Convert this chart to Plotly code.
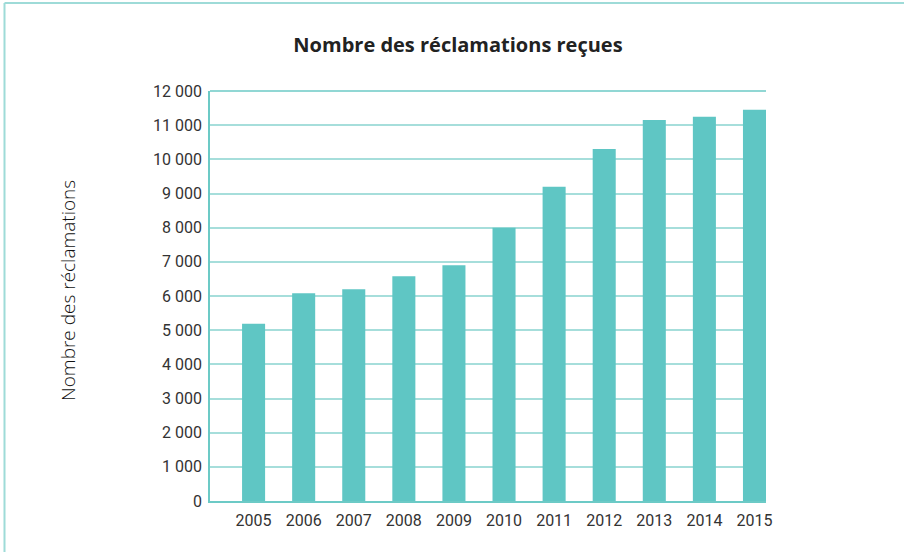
import plotly.graph_objects as go

years = [2005, 2006, 2007, 2008, 2009, 2010, 2011, 2012, 2013, 2014, 2015]
reclamations = [5190, 6080, 6200, 6580, 6900, 8000, 9200, 10300, 11150, 11250, 11450]
y_ticks = list(range(0, 12001, 1000))

title_text = "Nombre des réclamations reçues"
y_title = "Nombre des réclamations"

W, H = 904, 552
L, R, T, B = 210, 138, 91, 51
pw, ph = W - L - R, H - T - B

def px_x(x):
    return (x - L) / pw

def px_y(y):
    return (H - B - y) / ph

bar_color = "#5fc6c4"
grid_color = "#a6dedb"
axis_color = "#6ccac6"
border_color = "#9edbd8"

fig = go.Figure(go.Bar(
    x=years, y=reclamations, width=0.46,
    marker=dict(color=bar_color, line=dict(width=0)),
))

fig.update_layout(
    width=W, height=H,
    margin=dict(l=L, r=R, t=T, b=B),
    paper_bgcolor="white", plot_bgcolor="white",
    separators=", ",
    showlegend=False,
    font=dict(family="Roboto", color="#333333"),
    title=dict(text="<b>" + title_text + "</b>", x=px_x(458), xref="paper",
               xanchor="center", y=1 - 45 / H, yanchor="middle",
               font=dict(family="Open Sans", size=20, color="#222222")),
    xaxis=dict(range=[2004.13, 2015.23], tickvals=years, ticktext=[str(y) for y in years],
               showgrid=False, showline=True, linecolor=axis_color, linewidth=2,
               ticks="", ticklabelstandoff=4,
               tickfont=dict(size=16, color="#333333"), zeroline=False),
    yaxis=dict(range=[0, 12000], tickvals=y_ticks, tickformat=",d",
               showgrid=True, gridcolor=grid_color, gridwidth=1.5,
               showline=True, linecolor=axis_color, linewidth=1.5,
               ticks="", ticklabelstandoff=3,
               tickfont=dict(size=16, color="#333333"), zeroline=False),
    annotations=[dict(text=y_title, xref="paper", yref="paper",
                      x=px_x(68), y=px_y(291), textangle=-90, showarrow=False,
                      xanchor="center", yanchor="middle",
                      font=dict(family="Open Sans", size=19, weight=300, color="#111111"))],
    shapes=[
        dict(type="line", xref="paper", yref="paper", x0=0, x1=1, y0=1, y1=1,
             line=dict(color=axis_color, width=1.5)),
        dict(type="line", xref="paper", yref="paper", x0=px_x(4.5), x1=px_x(4.5),
             y0=px_y(3), y1=px_y(560), line=dict(color=border_color, width=2)),
        dict(type="line", xref="paper", yref="paper", x0=px_x(4.5), x1=px_x(910),
             y0=px_y(3), y1=px_y(3), line=dict(color=border_color, width=2)),
    ],
)

fig.write_html("out.html", config={"displayModeBar": False},
               post_script="document.body.style.margin='0';document.body.style.overflow='hidden';")
